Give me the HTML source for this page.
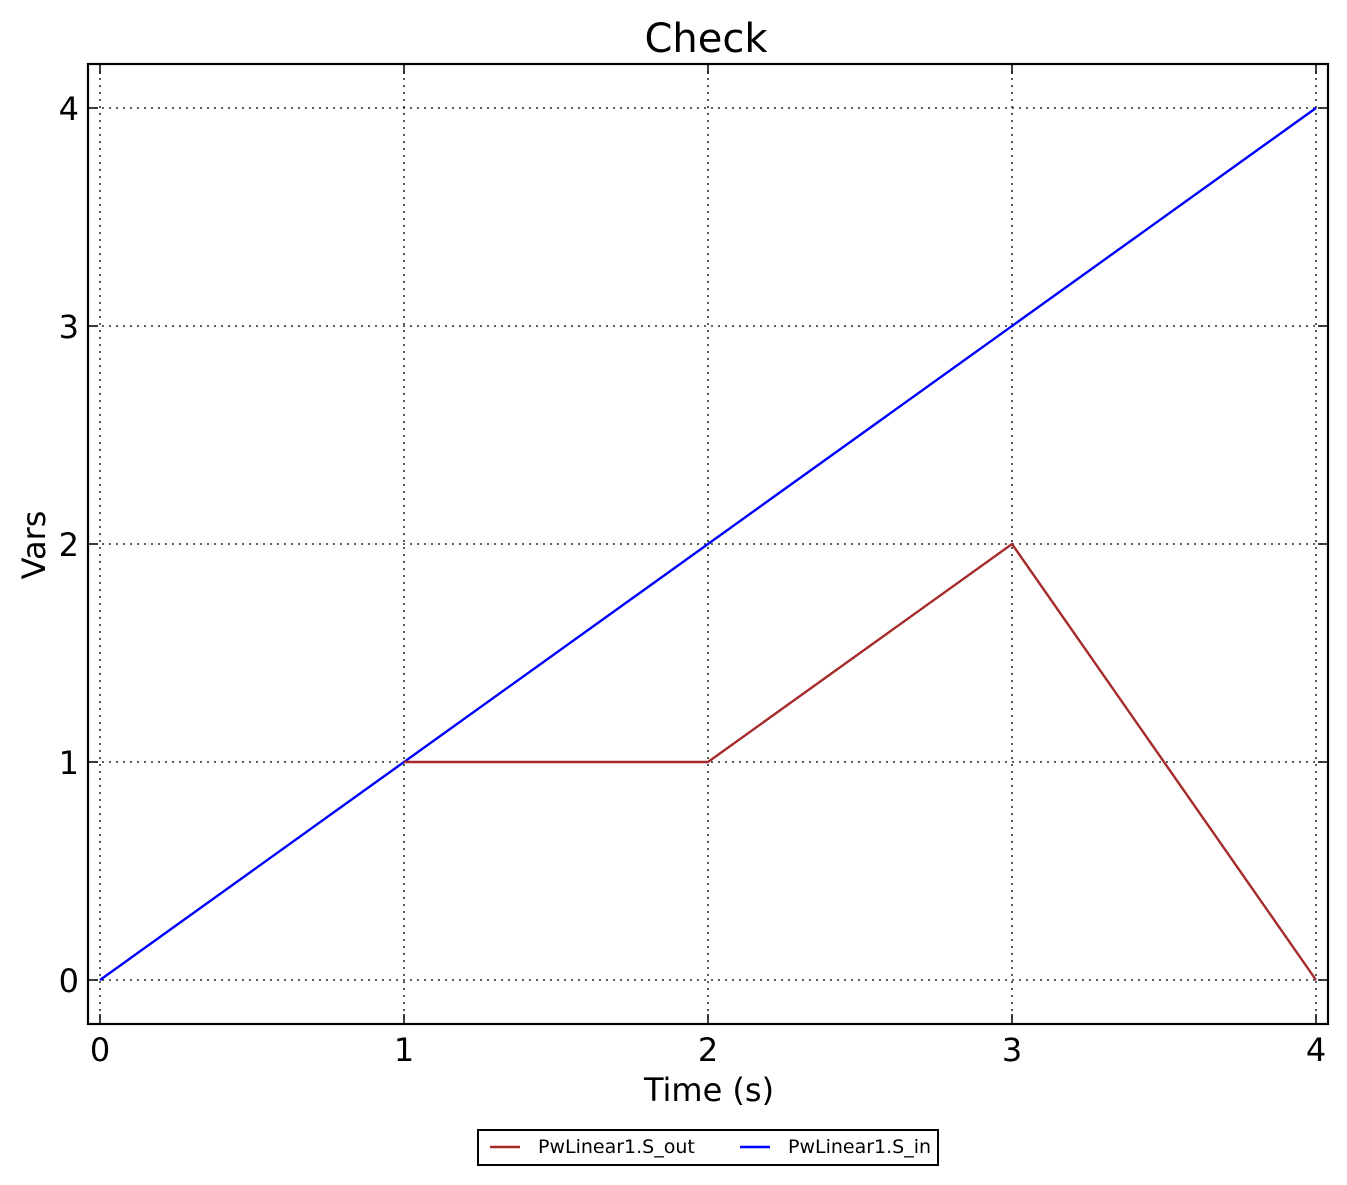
<!DOCTYPE html>
<html><head><style>body{margin:0;background:#fff}svg{display:block}</style></head><body>
<svg width="1347" height="1185" xmlns="http://www.w3.org/2000/svg" font-family="DejaVu Sans, Liberation Sans, sans-serif">
<rect width="1347" height="1185" fill="#fff"/>
<g stroke="#000" stroke-width="1.3" stroke-dasharray="2,5">
<line x1="100" y1="64" x2="100" y2="1024"/><line x1="404" y1="64" x2="404" y2="1024"/><line x1="708" y1="64" x2="708" y2="1024"/><line x1="1012" y1="64" x2="1012" y2="1024"/><line x1="1316" y1="64" x2="1316" y2="1024"/>
<line x1="88" y1="980" x2="1328" y2="980"/><line x1="88" y1="762" x2="1328" y2="762"/><line x1="88" y1="544" x2="1328" y2="544"/><line x1="88" y1="326" x2="1328" y2="326"/><line x1="88" y1="108" x2="1328" y2="108"/>
</g>
<g stroke="#000" stroke-width="1.5">
<path d="M100 64v10M404 64v10M708 64v10M1012 64v10M1316 64v10M100 1024v-10M404 1024v-10M708 1024v-10M1012 1024v-10M1316 1024v-10"/>
<path d="M88 980h10M88 762h10M88 544h10M88 326h10M88 108h10M1328 980h-10M1328 762h-10M1328 544h-10M1328 326h-10M1328 108h-10"/>
</g>
<polyline points="100,980 1316,108" fill="none" stroke="#0000ff" stroke-width="2.4"/>
<polyline points="404,762 708,762 1012,544 1316,980" fill="none" stroke="#a52a2a" stroke-width="2.4"/>
<rect x="88" y="64" width="1240" height="960" fill="none" stroke="#000" stroke-width="2.2"/>
<g font-size="32" text-anchor="middle">
<text x="100" y="1061">0</text><text x="404" y="1061">1</text><text x="708" y="1061">2</text><text x="1012" y="1061">3</text><text x="1316" y="1061">4</text>
</g>
<g font-size="32" text-anchor="end">
<text x="79" y="992">0</text><text x="79" y="774">1</text><text x="79" y="556">2</text><text x="79" y="338">3</text><text x="79" y="120">4</text>
</g>
<text x="706" y="52" font-size="40" text-anchor="middle">Check</text>
<text x="709" y="1101" font-size="32" text-anchor="middle">Time (s)</text>
<text transform="translate(45,545) rotate(-90)" font-size="32" text-anchor="middle">Vars</text>
<rect x="478" y="1130" width="460" height="35" fill="#fff" stroke="#000" stroke-width="2"/>
<line x1="490" y1="1147" x2="520" y2="1147" stroke="#a52a2a" stroke-width="2.4"/>
<text x="538" y="1153" font-size="19">PwLinear1.S_out</text>
<line x1="740" y1="1147" x2="770" y2="1147" stroke="#0000ff" stroke-width="2.4"/>
<text x="788" y="1153" font-size="19">PwLinear1.S_in</text>
</svg>
</body></html>
